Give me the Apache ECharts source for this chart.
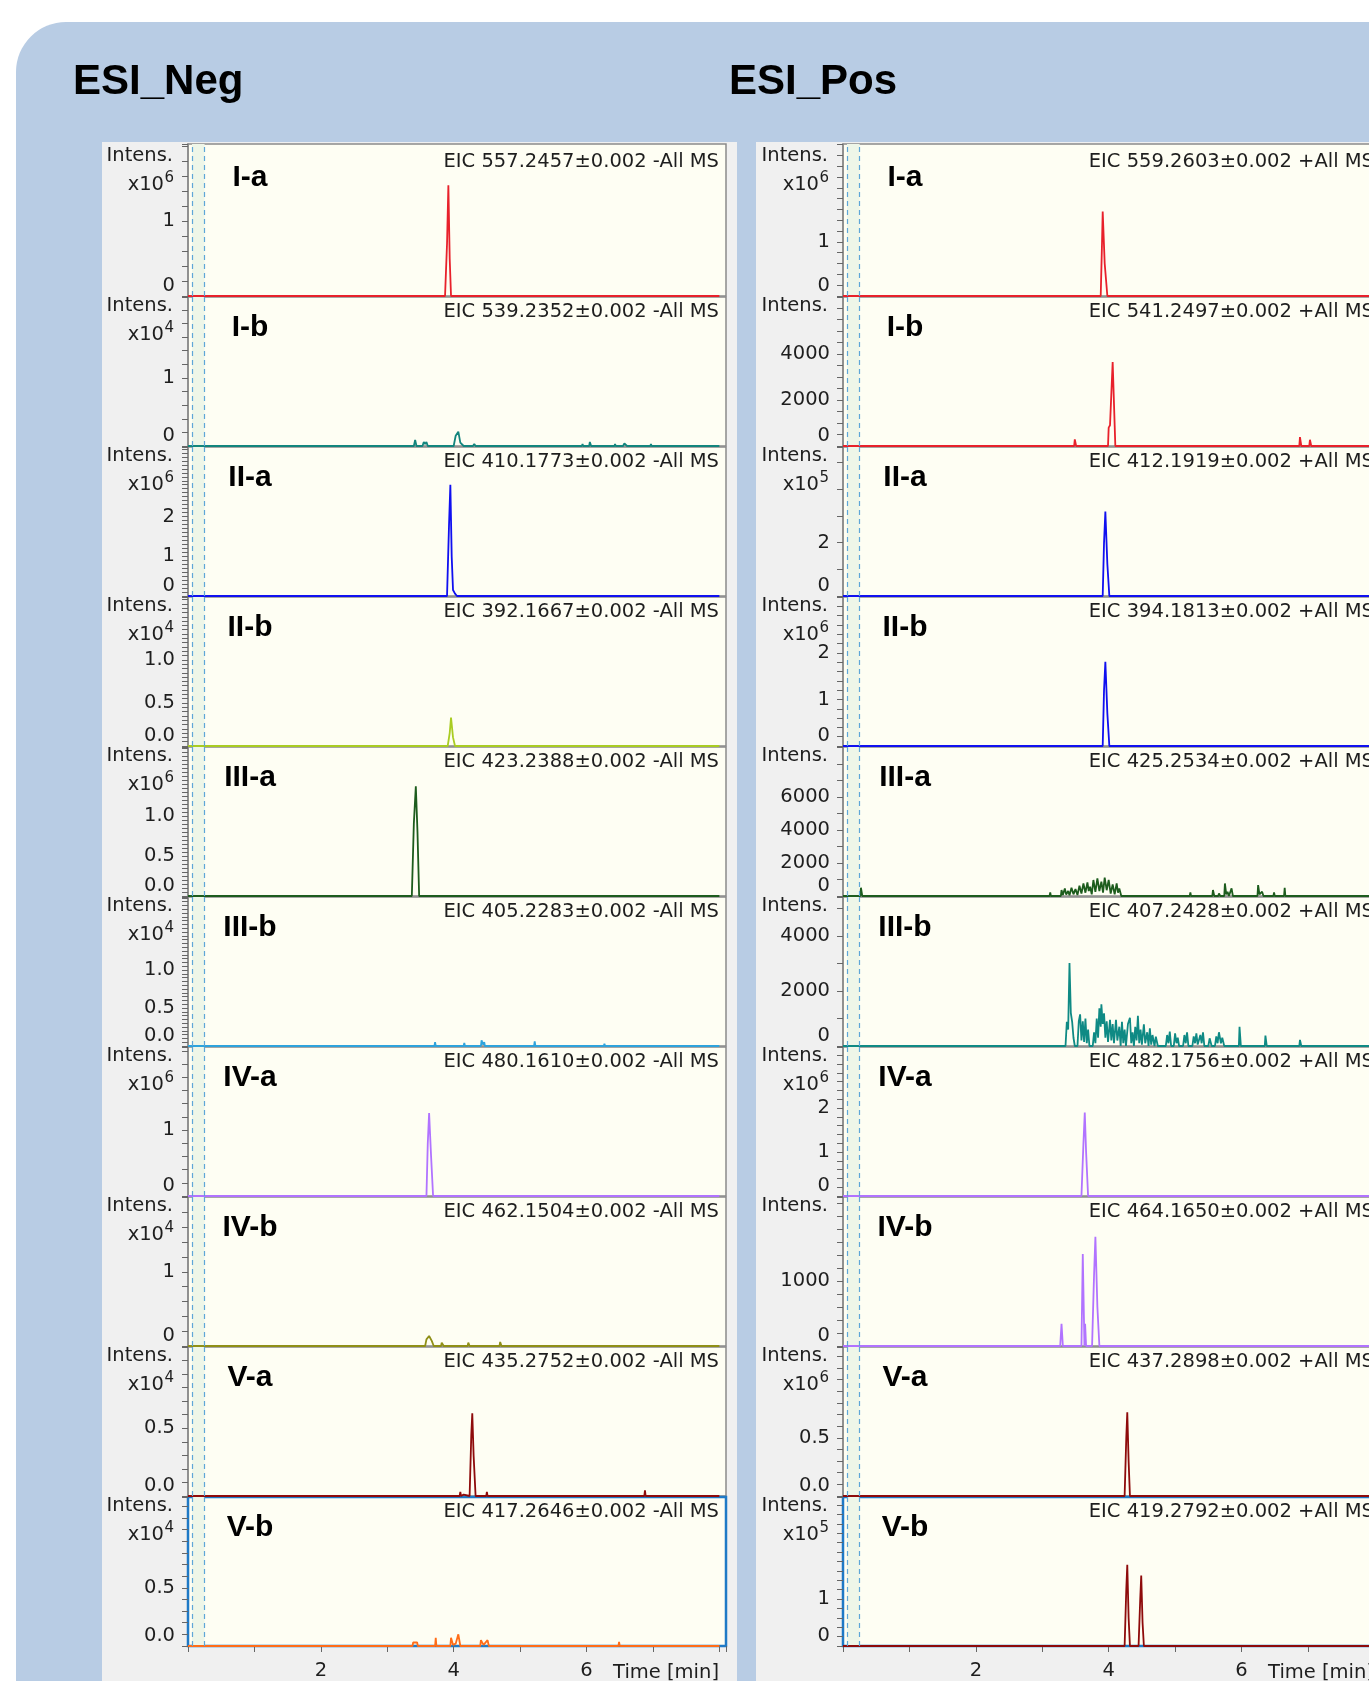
<!DOCTYPE html>
<html>
<head>
<meta charset="utf-8">
<script src="https://cdn.jsdelivr.net/npm/echarts@6/dist/echarts.min.js"></script>
<style>
html, body { margin: 0; padding: 0; background: #fff; overflow: hidden; }
#main { width: 1400px; height: 1681px; }
</style>
</head>
<body>
<div id="main"></div>
<script>
// ===== data (time in min, intensity in axis units) =====
var panelNames = ['I-a', 'I-b', 'II-a', 'II-b', 'III-a', 'III-b', 'IV-a', 'IV-b', 'V-a', 'V-b'];

var negEic = ['EIC 557.2457±0.002 -All MS', 'EIC 539.2352±0.002 -All MS', 'EIC 410.1773±0.002 -All MS',
    'EIC 392.1667±0.002 -All MS', 'EIC 423.2388±0.002 -All MS', 'EIC 405.2283±0.002 -All MS',
    'EIC 480.1610±0.002 -All MS', 'EIC 462.1504±0.002 -All MS', 'EIC 435.2752±0.002 -All MS',
    'EIC 417.2646±0.002 -All MS'];
var posEic = ['EIC 559.2603±0.002 +All MS', 'EIC 541.2497±0.002 +All MS', 'EIC 412.1919±0.002 +All MS',
    'EIC 394.1813±0.002 +All MS', 'EIC 425.2534±0.002 +All MS', 'EIC 407.2428±0.002 +All MS',
    'EIC 482.1756±0.002 +All MS', 'EIC 464.1650±0.002 +All MS', 'EIC 437.2898±0.002 +All MS',
    'EIC 419.2792±0.002 +All MS'];

// exponent of the "x10^n" axis factor, 0 = none
var negExp = [6, 4, 6, 4, 6, 4, 6, 4, 4, 4];
var posExp = [6, 0, 5, 6, 0, 0, 6, 0, 6, 5];

var negMax = [2.03, 2.19, 3.75, 1.73, 1.86, 1.96, 2.26, 2.01, 1.10, 1.28];
var negStep = [0.2, 0.2, 0.1, 0.05, 0.05, 0.05, 0.2, 0.2, 0.1, 0.1];
var negLabels = [[0, 1], [0, 1], [0, 1, 2], [0, 0.5, 1], [0, 0.5, 1], [0, 0.5, 1], [0, 1], [0, 1], [0, 0.5], [0, 0.5]];

var posMax = [2.81, 6478, 5.58, 3.2, 9030, 5418, 3.39, 2292, 1.28, 3.17];
var posStep = [0.2, 500, 1, 0.2, 1000, 1000, 0.2, 200, 0.1, 0.2];
var posLabels = [[0, 1], [0, 2000, 4000], [0, 2], [0, 1, 2], [0, 2000, 4000, 6000], [0, 2000, 4000], [0, 1, 2], [0, 1000], [0, 0.5], [0, 1]];

var negColors = ['#e8212b', '#12857d', '#1010f0', '#a9cc22', '#1d5c1d', '#2ea3dc', '#b173ff', '#8f8f16', '#8e0b0b', '#ff6d18'];
var posColors = ['#e8212b', '#e8212b', '#1010f0', '#1010f0', '#1d5c1d', '#0f8a84', '#b173ff', '#b173ff', '#8e0b0b', '#8e0b0b'];

var timeTicks = [2, 4, 6];

// ESI_Neg traces
var negIa = [[0, 0], [3.87, 0], [3.9, 0.7], [3.92, 1.48], [3.94, 0.5], [3.96, 0], [8, 0]];
var negIb = [[0, 0], [3.4, 0], [3.42, 0.09], [3.44, 0], [3.53, 0], [3.55, 0.06], [3.57, 0.03], [3.59, 0.06], [3.61, 0],
    [4.0, 0], [4.03, 0.15], [4.07, 0.21], [4.1, 0.05], [4.13, 0.03], [4.15, 0], [4.29, 0], [4.31, 0.03], [4.33, 0],
    [4.78, 0], [4.79, 0.02], [4.8, 0], [5.93, 0], [5.94, 0.03], [5.95, 0], [6.04, 0], [6.05, 0.06], [6.07, 0],
    [6.42, 0], [6.43, 0.03], [6.44, 0], [6.55, 0], [6.57, 0.04], [6.59, 0.03], [6.61, 0], [6.96, 0], [6.97, 0.03], [6.98, 0], [8, 0]];
var negIIa = [[0, 0], [3.9, 0], [3.93, 1.8], [3.95, 2.8], [3.97, 1.0], [3.99, 0.15], [4.02, 0.06], [4.05, 0], [8, 0]];
var negIIb = [[0, 0], [3.91, 0], [3.94, 0.15], [3.96, 0.33], [3.99, 0.1], [4.02, 0], [4.37, 0], [4.38, 0.02], [4.39, 0],
    [6.65, 0], [6.66, 0.015], [6.67, 0], [8, 0]];
var negIIIa = [[0, 0], [3.37, 0], [3.4, 0.9], [3.43, 1.37], [3.455, 0.8], [3.48, 0], [8, 0]];
var negIIIb = [[0, 0], [3.71, 0], [3.72, 0.05], [3.73, 0], [4.15, 0], [4.16, 0.04], [4.17, 0], [4.41, 0], [4.42, 0.075],
    [4.44, 0.02], [4.46, 0.05], [4.47, 0], [4.64, 0], [4.65, 0.02], [4.66, 0], [5.21, 0], [5.22, 0.06], [5.23, 0],
    [5.41, 0], [5.42, 0.02], [5.43, 0], [6.26, 0], [6.27, 0.03], [6.28, 0], [8, 0]];
var negIVa = [[0, 0], [3.59, 0], [3.61, 0.8], [3.63, 1.26], [3.66, 0.6], [3.69, 0], [8, 0]];
var negIVb = [[0, 0], [3.47, 0], [3.48, 0.02], [3.5, 0], [3.57, 0], [3.59, 0.09], [3.63, 0.135], [3.67, 0.07], [3.7, 0],
    [3.81, 0], [3.82, 0.045], [3.85, 0], [4.21, 0], [4.22, 0.045], [4.24, 0], [4.46, 0], [4.47, 0.02], [4.48, 0],
    [4.69, 0], [4.7, 0.055], [4.72, 0], [8, 0]];
var negVa = [[0, 0], [4.09, 0], [4.1, 0.03], [4.11, 0], [4.14, 0], [4.15, 0.01], [4.16, 0], [4.24, 0], [4.265, 0.45],
    [4.28, 0.61], [4.3, 0.3], [4.33, 0], [4.49, 0], [4.5, 0.03], [4.51, 0], [4.68, 0], [4.69, 0.012], [4.7, 0],
    [6.3, 0], [6.31, 0.012], [6.32, 0], [6.87, 0], [6.88, 0.042], [6.89, 0], [8, 0]];
var negVb = [[0, 0], [3.38, 0], [3.39, 0.03], [3.42, 0.02], [3.45, 0.03], [3.46, 0], [3.72, 0], [3.73, 0.07], [3.74, 0],
    [3.95, 0], [3.96, 0.07], [3.99, 0.01], [4.03, 0.02], [4.07, 0.1], [4.1, 0], [4.4, 0], [4.41, 0.05], [4.45, 0.01],
    [4.51, 0.05], [4.53, 0], [6.48, 0], [6.49, 0.035], [6.5, 0], [8, 0]];

// ESI_Pos traces
var posIa = [[0, 0], [3.88, 0], [3.9, 1.0], [3.91, 1.56], [3.94, 0.6], [3.98, 0], [8, 0]];
var posIb = [[0, 0], [3.48, 0], [3.49, 290], [3.51, 0], [3.99, 0], [4.0, 800], [4.02, 900], [4.06, 3650], [4.1, 0],
    [6.87, 0], [6.88, 390], [6.9, 0], [7.02, 0], [7.03, 270], [7.05, 0], [8, 0]];
var posIIa = [[0, 0], [3.91, 0], [3.93, 2.0], [3.95, 3.16], [3.98, 1.2], [4.01, 0], [8, 0]];
var posIIb = [[0, 0], [3.91, 0], [3.93, 1.2], [3.95, 1.81], [3.98, 0.7], [4.01, 0], [8, 0]];
var posIIIa = [[0, 0], [0.26, 0], [0.27, 500], [0.29, 0], [3.11, 0], [3.12, 220], [3.13, 0], [3.28, 0], [3.29, 360],
    [3.31, 60], [3.34, 460], [3.36, 80], [3.39, 300], [3.41, 50], [3.44, 500], [3.47, 100], [3.5, 420], [3.53, 60],
    [3.56, 620], [3.59, 150], [3.62, 760], [3.65, 200], [3.68, 830], [3.7, 300], [3.72, 560], [3.745, 100], [3.77, 970],
    [3.8, 250], [3.83, 1070], [3.86, 300], [3.89, 870], [3.915, 200], [3.94, 1110], [3.97, 350], [4.0, 970], [4.03, 150],
    [4.06, 700], [4.09, 100], [4.12, 760], [4.14, 200], [4.16, 460], [4.19, 0], [5.22, 0], [5.23, 220], [5.24, 0],
    [5.56, 0], [5.57, 360], [5.59, 0], [5.65, 0], [5.66, 160], [5.68, 0], [5.74, 0], [5.75, 760], [5.77, 100], [5.79, 260],
    [5.81, 0], [5.84, 0], [5.85, 460], [5.87, 0], [6.24, 0], [6.25, 660], [6.27, 100], [6.31, 260], [6.33, 0],
    [6.48, 0], [6.49, 220], [6.5, 0], [6.64, 0], [6.65, 500], [6.66, 0], [8, 0]];
var posIIIb = [[0, 0], [3.35, 0], [3.37, 880], [3.39, 600], [3.41, 3020], [3.43, 1200], [3.45, 880], [3.47, 300], [3.49, 0],
    [3.53, 0], [3.55, 900], [3.57, 1150], [3.59, 200], [3.61, 900], [3.63, 150], [3.65, 1000], [3.67, 100], [3.69, 600], [3.71, 0],
    [3.76, 0], [3.78, 500], [3.8, 100], [3.82, 1000], [3.84, 300], [3.86, 1370], [3.88, 700], [3.89, 1520], [3.91, 800],
    [3.93, 1190], [3.95, 300], [3.97, 900], [3.99, 150], [4.02, 950], [4.04, 200], [4.06, 800], [4.08, 100], [4.11, 950],
    [4.13, 200], [4.16, 700], [4.18, 0], [4.2, 880], [4.22, 100], [4.24, 600], [4.26, 0], [4.29, 800], [4.32, 1030],
    [4.34, 100], [4.36, 500], [4.38, 0], [4.4, 700], [4.42, 200], [4.44, 1100], [4.46, 100], [4.48, 600], [4.5, 50],
    [4.53, 790], [4.55, 100], [4.58, 500], [4.6, 0], [4.62, 640], [4.64, 50], [4.66, 400], [4.69, 0], [4.71, 340], [4.74, 0],
    [4.86, 0], [4.88, 400], [4.9, 100], [4.92, 520], [4.94, 0], [4.98, 0], [5.0, 460], [5.02, 100], [5.04, 300], [5.06, 0],
    [5.12, 0], [5.14, 400], [5.16, 100], [5.18, 500], [5.2, 0], [5.26, 0], [5.28, 350], [5.3, 100], [5.32, 460], [5.34, 50],
    [5.38, 400], [5.4, 100], [5.42, 500], [5.44, 0], [5.5, 0], [5.52, 280], [5.55, 0], [5.6, 0], [5.62, 350], [5.64, 100],
    [5.66, 500], [5.69, 100], [5.71, 300], [5.74, 0], [5.96, 0], [5.97, 700], [5.99, 0], [6.35, 0], [6.36, 380], [6.38, 0],
    [6.87, 0], [6.88, 220], [6.9, 0], [8, 0]];
var posIVa = [[0, 0], [3.59, 0], [3.62, 1.2], [3.64, 1.9], [3.66, 1.0], [3.69, 0], [8, 0]];
var posIVb = [[0, 0], [3.27, 0], [3.29, 340], [3.31, 0], [3.59, 0], [3.61, 1415], [3.635, 0], [3.645, 340], [3.66, 0],
    [3.75, 0], [3.78, 1100], [3.8, 1680], [3.83, 600], [3.86, 0], [8, 0]];
var posVa = [[0, 0], [4.24, 0], [4.265, 0.5], [4.28, 0.72], [4.3, 0.3], [4.32, 0], [8, 0]];
var posVb = [[0, 0], [4.24, 0], [4.265, 1.2], [4.28, 1.73], [4.3, 0.6], [4.32, 0], [4.45, 0], [4.475, 1.0], [4.49, 1.5],
    [4.51, 0.5], [4.53, 0], [8, 0]];

var negTraces = [negIa, negIb, negIIa, negIIb, negIIIa, negIIIb, negIVa, negIVb, negVa, negVb];
var posTraces = [posIa, posIb, posIIa, posIIb, posIIIa, posIIIb, posIVa, posIVb, posVa, posVb];

// ===== layout =====
var FONT = 'DejaVu Sans';
var FS = 19.5;
var TXT = '#1e1e1e';
var FRAME = '#8a8a8a';
var plotLeft = [188, 843];
var plotW = 538;

function panelTop(k) { return k === 0 ? 144 : 147 + 150 * k; }
function textTop(k) { return 147 + 150 * k; }
function panelBase(k) { return 296 + 150 * k; }

function makeFmt(list) {
    var dec = list.some(function (v) { return v % 1 !== 0; });
    return function (v) {
        for (var i = 0; i < list.length; i++) {
            if (Math.abs(v - list[i]) < 1e-6 * Math.max(1, Math.abs(list[i]))) {
                return dec ? list[i].toFixed(1) : String(list[i]);
            }
        }
        return '';
    };
}

var columns = [
    {title: 'ESI_Neg', titleX: 73, eic: negEic, exp: negExp, max: negMax, step: negStep, labels: negLabels, colors: negColors, traces: negTraces},
    {title: 'ESI_Pos', titleX: 729, eic: posEic, exp: posExp, max: posMax, step: posStep, labels: posLabels, colors: posColors, traces: posTraces}
];

var grids = [], xAxes = [], yAxes = [], series = [];
var graphics = [
    {type: 'rect', z: -20, silent: true, shape: {x: 16, y: 22, width: 1420, height: 1720, r: [50, 0, 0, 0]}, style: {fill: '#b8cce4'}},
    {type: 'rect', z: -10, silent: true, shape: {x: 102, y: 142, width: 635, height: 1600}, style: {fill: '#f0f0f0'}},
    {type: 'rect', z: -10, silent: true, shape: {x: 756, y: 142, width: 700, height: 1600}, style: {fill: '#f0f0f0'}}
];

function addText(x, y, text, font, align, color) {
    graphics.push({
        type: 'text', z: 50, silent: true, x: x, y: y,
        style: {text: text, font: font, fill: color || TXT, textAlign: align, textVerticalAlign: 'middle'}
    });
}

var txtFont = FS + 'px "' + FONT + '"';

columns.forEach(function (col, c) {
    addText(col.titleX, 82, col.title, 'bold 42px "Liberation Sans"', 'left', '#000');
    var pl = plotLeft[c];
    for (var k = 0; k < 10; k++) {
        var gi = c * 10 + k;
        var pt = panelTop(k), pb = panelBase(k), tt = textTop(k);
        var last = k === 9;
        var frame = last ? '#1f7ac6' : FRAME;
        grids.push({
            left: pl, top: pt, width: plotW, height: pb - pt,
            show: true, backgroundColor: '#fefef3',
            borderColor: frame, borderWidth: last ? 2.5 : 1.5
        });
        xAxes.push({
            type: 'value', gridIndex: gi, min: 0, max: 8.1, interval: 1, show: last,
            axisLine: {show: true, lineStyle: {color: frame, width: 2}},
            axisTick: {show: true, length: 6, lineStyle: {color: '#666', width: 1}},
            axisLabel: {
                margin: 15, fontSize: FS, fontFamily: FONT, color: TXT,
                formatter: function (v) { return timeTicks.indexOf(v) >= 0 ? String(v) : ''; }
            },
            splitLine: {show: false}
        });
        yAxes.push({
            type: 'value', gridIndex: gi, min: 0, max: col.max[k], interval: col.step[k],
            axisLine: {show: true, lineStyle: {color: frame, width: 1.5}},
            axisTick: {show: true, length: 6, lineStyle: {color: '#666', width: 1}},
            axisLabel: {
                margin: 13, fontSize: FS, fontFamily: FONT, color: TXT,
                verticalAlignMinLabel: 'bottom',
                formatter: makeFmt(col.labels[k])
            },
            splitLine: {show: false}
        });
        series.push({
            type: 'line', xAxisIndex: gi, yAxisIndex: gi, clip: false,
            data: col.traces[k], showSymbol: false, symbol: 'none',
            lineStyle: {color: col.colors[k], width: 1.8}, itemStyle: {color: col.colors[k]},
            markArea: {silent: true, itemStyle: {color: '#eef6e8'}, data: [[{xAxis: 0.06}, {xAxis: 0.25}]]},
            markLine: {
                silent: true, symbol: 'none', label: {show: false},
                lineStyle: {color: '#5ea6d8', type: [5, 4], width: 1.2},
                data: [{xAxis: 0.06}, {xAxis: 0.25}]
            }
        });

        // panel texts
        addText(pl - 15, tt + 9, 'Intens.', txtFont, 'right');
        if (col.exp[k]) {
            addText(pl - 24, tt + 38, 'x10', txtFont, 'right');
            addText(pl - 14, tt + 31, String(col.exp[k]), '15px "' + FONT + '"', 'right');
        }
        addText(pl + 62, tt + 31, panelNames[k], 'bold 30px "Liberation Sans"', 'center', '#000');
        addText(pl + plotW - 7, tt + 15, col.eic[k], txtFont, 'right');
        if (last) {
            addText(pl + plotW - 7, 1673, 'Time [min]', txtFont, 'right');
        }
    }
});

var myChart = echarts.init(document.getElementById('main'));
myChart.setOption({
    animation: false,
    backgroundColor: '#ffffff',
    grid: grids,
    xAxis: xAxes,
    yAxis: yAxes,
    series: series,
    graphic: {elements: graphics}
});
</script>
</body>
</html>
